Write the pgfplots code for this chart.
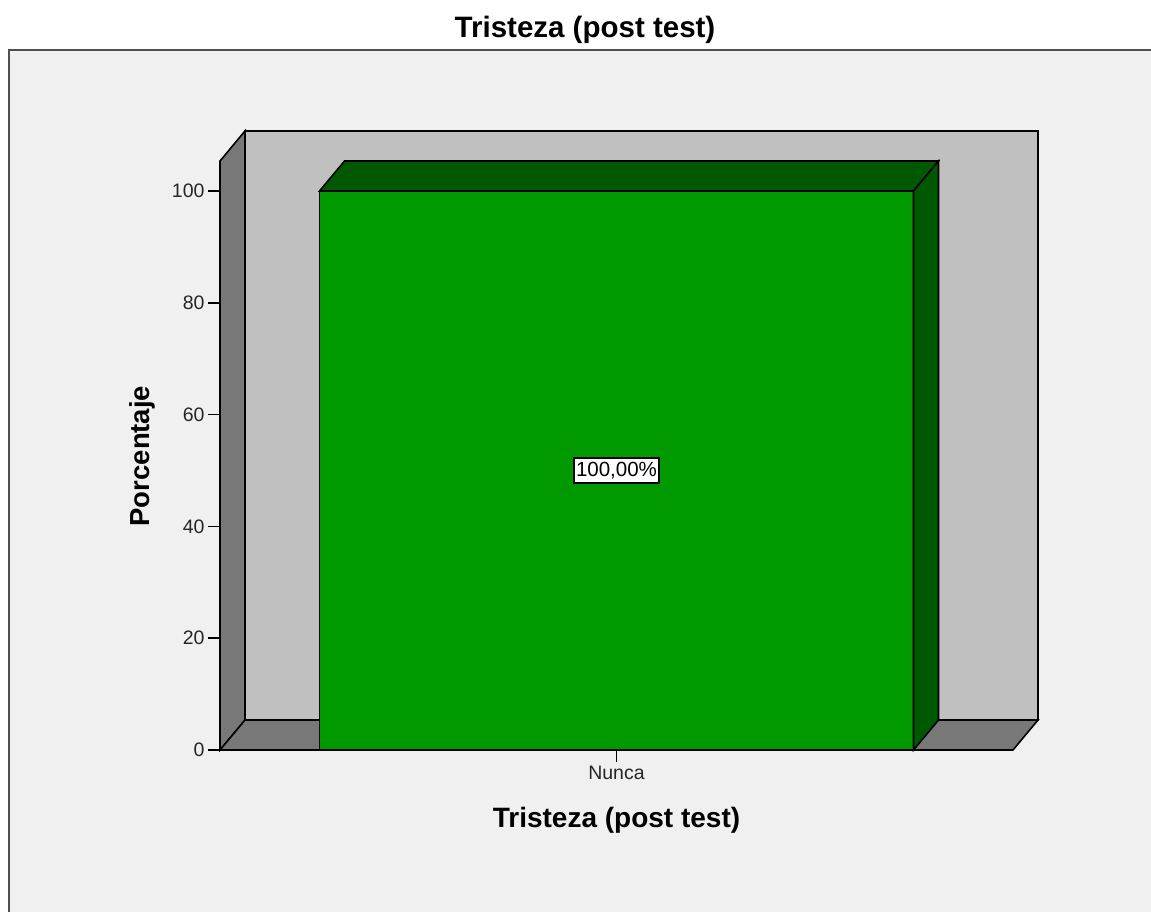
\documentclass[border=0pt]{standalone}
\usepackage{pgfplots}
\pgfplotsset{compat=1.18}
\usepackage{fontspec}
\setmainfont{Liberation Sans}
\definecolor{framebg}{HTML}{F0F0F0}
\definecolor{frameln}{HTML}{505050}
\definecolor{backwall}{HTML}{C0C0C0}
\definecolor{sidewall}{HTML}{787878}
\definecolor{barfront}{HTML}{009900}
\definecolor{bardark}{HTML}{005800}
\begin{document}
\begin{tikzpicture}
\useasboundingbox (0,0) rectangle (1151pt,-912pt);
\clip (0,0) rectangle (1151pt,-912pt);
\fill[white] (0,0) rectangle (1151pt,-912pt);
\filldraw[fill=framebg, draw=frameln, line width=2pt] (9pt,-50pt) rectangle (1170pt,-930pt);
\begin{axis}[
  at={(220pt,-750pt)}, anchor=south west,
  scale only axis, width=793pt, height=589pt,
  xmin=-0.6675, xmax=0.6675, ymin=0, ymax=105.37,
  clip=false,
  axis x line*=bottom, axis y line*=left,
  axis line style={black, line width=1.6pt},
  xtick={0}, xticklabels={Nunca},
  ytick={0,20,40,60,80,100},
  tick align=outside, major tick length=12pt,
  tick style={black, line width=1.5pt},
  xtick pos=bottom, ytick pos=left,
  /pgf/number format/assume math mode=true,
  ticklabel style={font=\fontsize{19.5}{22}\selectfont, text=black!85},
  xticklabel style={yshift=-1pt},
  xlabel={Tristeza (post test)},
  ylabel={Porcentaje},
  xlabel style={at={(axis description cs:0.5,-0.1188)}, anchor=center, font=\bfseries\fontsize{28}{30}\selectfont},
  ylabel style={at={(axis description cs:-0.0984,0.499)}, anchor=center, font=\bfseries\fontsize{27.5}{30}\selectfont},
  title={Tristeza (post test)},
  title style={at={(axis description cs:0.4603,1.2122)}, anchor=center, inner sep=0pt, font=\bfseries\fontsize{29.5}{32}\selectfont},
]
% back wall, left wall, floor
\addplot[fill=backwall, draw=black, line width=1.6pt, forget plot] coordinates {(-0.6254,5.37) (0.7096,5.37) (0.7096,110.74) (-0.6254,110.74)} -- cycle;
\addplot[fill=sidewall, draw=black, line width=1.6pt, forget plot] coordinates {(-0.6675,0) (-0.6254,5.37) (-0.6254,110.74) (-0.6675,105.37)} -- cycle;
\addplot[fill=sidewall, draw=black, line width=1.6pt, forget plot] coordinates {(-0.6675,0) (0.6675,0) (0.7096,5.37) (-0.6254,5.37)} -- cycle;
% bar
\addplot[ybar, bar width=1, fill=barfront, draw=black, line width=1.6pt] coordinates {(0,100)};
\addplot[fill=bardark, draw=black, line width=1.6pt, forget plot] coordinates {(-0.5,100) (0.5,100) (0.5421,105.37) (-0.4579,105.37)} -- cycle;
\addplot[fill=bardark, draw=black, line width=1.6pt, forget plot] coordinates {(0.5,0) (0.5421,5.37) (0.5421,105.37) (0.5,100)} -- cycle;
\node[fill=white, draw=black, line width=1.4pt, inner xsep=2pt, inner ysep=4pt, font=\fontsize{20.5}{22}\selectfont] at (axis cs:0,50) {100,00\%};
\end{axis}
\end{tikzpicture}
\end{document}
